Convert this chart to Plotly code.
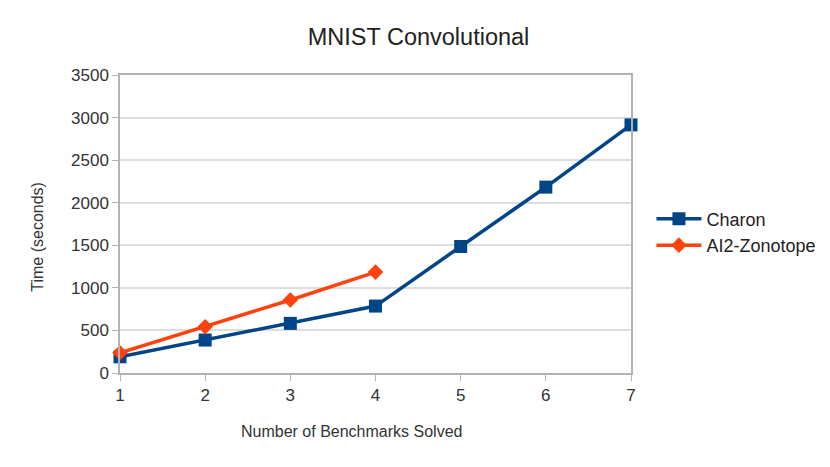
import plotly.graph_objects as go

benchmarks = [1, 2, 3, 4, 5, 6, 7]
charon_time = [190, 387, 583, 786, 1486, 2183, 2914]
ai2_benchmarks = [1, 2, 3, 4]
ai2_time = [238, 543, 857, 1185]
y_ticks = [0, 500, 1000, 1500, 2000, 2500, 3000, 3500]

font = "Liberation Sans, Arial, sans-serif"

fig = go.Figure()
fig.add_trace(go.Scatter(x=benchmarks, y=charon_time, name="Charon", mode="lines+markers",
                         cliponaxis=False,
                         line=dict(color="#004586", width=3.5),
                         marker=dict(symbol="square", size=13, color="#004586")))
fig.add_trace(go.Scatter(x=ai2_benchmarks, y=ai2_time, name="AI2-Zonotope", mode="lines+markers",
                         cliponaxis=False,
                         line=dict(color="#ff420e", width=3.5),
                         marker=dict(symbol="diamond", size=12, color="#ff420e")))

fig.add_annotation(text="Number of Benchmarks Solved", xref="paper", yref="paper",
                   x=0.453, y=-0.197, xanchor="center", yanchor="middle", showarrow=False,
                   font=dict(size=16, color="#333333"))
fig.add_annotation(text="Time (seconds)", xref="paper", yref="paper", textangle=-90,
                   x=-0.162, y=0.458, xanchor="center", yanchor="middle", showarrow=False,
                   font=dict(size=16, color="#333333"))

fig.update_layout(
    width=830, height=467,
    paper_bgcolor="white", plot_bgcolor="white",
    font=dict(family=font, size=17, color="#333333"),
    title=dict(text="MNIST Convolutional", x=0.4946, xanchor="center", y=0.938, yanchor="middle",
               font=dict(size=23.5, color="#222222")),
    margin=dict(l=112, r=207, t=67, b=102),
    legend=dict(x=1.04, y=0.473, xanchor="left", yanchor="middle", font=dict(size=18, color="#222222"),
                itemwidth=45, tracegroupgap=2),
    xaxis=dict(range=[1, 7], tickvals=benchmarks, showgrid=False, zeroline=False,
               showline=True, linecolor="#b3b3b3", linewidth=1.5, mirror=True,
               ticks="outside", ticklen=6, tickcolor="#b3b3b3"),
    yaxis=dict(range=[0, 3500], tickvals=y_ticks, showgrid=True, gridcolor="#dddddd", gridwidth=1.5,
               zeroline=False, showline=True, linecolor="#b3b3b3", linewidth=1.5, mirror=True,
               ticks="outside", ticklen=6, tickcolor="#b3b3b3"),
)

fig.write_html("out.html")
